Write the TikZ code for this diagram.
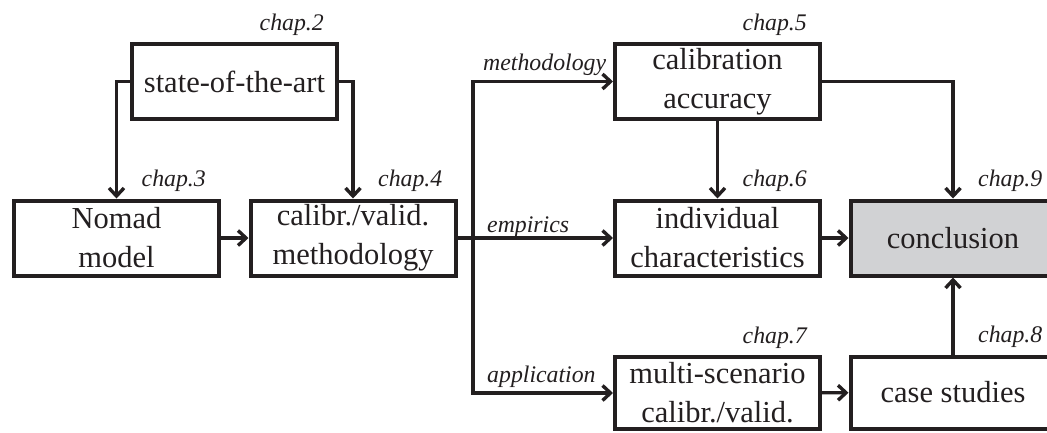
\documentclass[tikz,border=0pt]{standalone}
\usepackage{fontspec}
\setmainfont{Liberation Serif}
\usetikzlibrary{arrows.meta}
\definecolor{ink}{RGB}{35,31,32}
\definecolor{shade}{RGB}{209,210,212}
\begin{document}
\begin{tikzpicture}[x=1pt,y=-1pt,
  box/.style={draw=ink, line width=4pt, minimum width=205pt, minimum height=75pt,
    inner sep=0pt, align=center, text=ink, font=\fontsize{30.5}{39}\selectfont},
  endbox/.style={box, fill=shade},
  chap/.style={text=ink, inner sep=0pt, font=\fontsize{23.8}{28}\selectfont\itshape},
  branch/.style={chap},
  link/.style={draw=ink, line width=3.4pt},
  conn/.style={link, -{Straight Barb[length=8pt,width=15pt]}}]
\useasboundingbox (0,0) rectangle (1047,432);
\clip (0,0) rectangle (1047,432);

% chapters
\node[box] (sota)   at (234.5,81.5) {state-of-the-art};
\node[box] (nomad)  at (116.5,238)  {Nomad\\model};
\node[box] (calval) at (353,238)    {calibr./valid.\\methodology};
\node[box] (calacc) at (717.5,81.5) {calibration\\accuracy};
\node[box] (indiv)  at (717.5,238)  {individual\\characteristics};
\node[endbox] (concl) at (953,238)  {conclusion};
\node[box, minimum height=72pt] (multi) at (717.5,393) {multi-scenario\\calibr./valid.};
\node[box, minimum height=72pt] (case)  at (953,392.5) {case studies};

% chapter numbers
\node[chap, anchor=base east] (c2) at ([shift={(-15,-12)}]sota.north east)   {chap.2};
\node[chap, anchor=base east] (c3) at ([shift={(-15,-12)}]nomad.north east)  {chap.3};
\node[chap, anchor=base east] (c4) at ([shift={(-15,-12)}]calval.north east) {chap.4};
\node[chap, anchor=base east] (c5) at ([shift={(-15,-12)}]calacc.north east) {chap.5};
\node[chap, anchor=base east] (c6) at ([shift={(-15,-12)}]indiv.north east)  {chap.6};
\node[chap, anchor=base east] (c7) at ([shift={(-15,-12)}]multi.north east)  {chap.7};
\node[chap, anchor=base east] (c8) at ([shift={(-15,-12)}]case.north east)   {chap.8};
\node[chap, anchor=base east] (c9) at ([shift={(-15,-12)}]concl.north east)  {chap.9};

% flow
\coordinate (split) at (473,238);
\draw[conn] (sota.west) -| (nomad.north);
\draw[conn] (sota.east) -| (calval.north);
\draw[conn] (nomad) -- (calval);
\draw[link] (calval.east) -- (split);
\draw[conn] (split) |- (calacc.west);
\draw[conn] (split) -- (indiv.west);
\draw[conn] (split) |- (multi.west);
\draw[conn] (calacc) -- (indiv);
\draw[conn] (calacc.east) -| (concl.north);
\draw[conn] (indiv) -- (concl);
\draw[conn] (multi) -- (case);
\draw[conn] (case) -- (concl);

% branch labels
\node[branch, anchor=base west] (lm) at (483,70)  {methodology};
\node[branch, anchor=base west] (le) at (487,232) {empirics};
\node[branch, anchor=base west] (la) at (487,382) {application};
\end{tikzpicture}
\end{document}
